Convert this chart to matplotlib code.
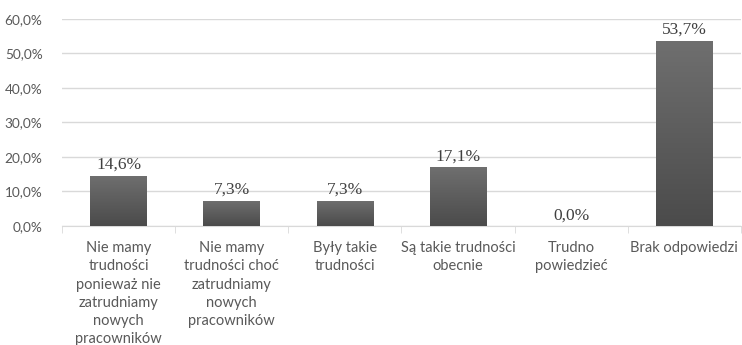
import numpy as np
import matplotlib
matplotlib.use("Agg")
import matplotlib.pyplot as plt
from matplotlib.ticker import FuncFormatter

# dane
kategorie = [
    "Nie mamy\ntrudności\nponieważ nie\nzatrudniamy\nnowych\npracowników",
    "Nie mamy\ntrudności choć\nzatrudniamy\nnowych\npracowników",
    "Były takie\ntrudności",
    "Są takie trudności\nobecnie",
    "Trudno\npowiedzieć",
    "Brak odpowiedzi",
]
wartosci = [14.6, 7.3, 7.3, 17.1, 0.0, 53.7]
y_ticks = [0, 10, 20, 30, 40, 50, 60]

fig = plt.figure(figsize=(7.42, 3.45), dpi=100)
ax = fig.add_axes([0.0836, 0.345, 0.915, 0.6])

x = np.arange(len(kategorie))
bars = ax.bar(x, wartosci, width=0.5, color="#595959", zorder=2)

# gradient na slupkach
grad = np.linspace(0, 1, 100).reshape(-1, 1)
cm = matplotlib.colors.LinearSegmentedColormap.from_list("g", ["#4b4b4b", "#6f6f6f"])
for b in bars:
    if b.get_height() <= 0:
        continue
    x0, y0 = b.get_x(), b.get_y()
    im = ax.imshow(grad, extent=[x0, x0 + b.get_width(), y0, y0 + b.get_height()],
                   origin="lower", cmap=cm, aspect="auto", zorder=3)
    im.set_clip_path(b)

for xi, v in zip(x, wartosci):
    ax.annotate(f"{v:.1f}%".replace(".", ","), (xi, v), xytext=(0, 2),
                textcoords="offset points", ha="center", va="bottom",
                fontsize=12.5, family="Liberation Serif", color="#404040")

ax.set_xlim(-0.5, len(kategorie) - 0.5)
ax.set_ylim(0, 60)
ax.set_yticks(y_ticks)
ax.yaxis.set_major_formatter(FuncFormatter(lambda v, p: f"{v:.1f}%".replace(".", ",")))
ax.grid(axis="y", color="#d9d9d9", linewidth=1, zorder=0)
ax.set_axisbelow(True)

ax.set_xticks(x)
ax.set_xticklabels(kategorie, fontsize=10.5, family="Lato", color="#595959", linespacing=1.38)
ax.set_xticks(np.arange(len(kategorie) + 1) - 0.5, minor=True)
ax.tick_params(axis="x", which="major", length=0, pad=11)
ax.tick_params(axis="x", which="minor", length=5, color="#d9d9d9")
ax.tick_params(axis="y", length=0, labelsize=9.8, labelcolor="#595959", pad=14)
for lab in ax.get_yticklabels():
    lab.set_family("Lato")

for s in ["top", "right", "left"]:
    ax.spines[s].set_visible(False)
ax.spines["bottom"].set_color("#d9d9d9")

fig.savefig("out.png", dpi=100)
